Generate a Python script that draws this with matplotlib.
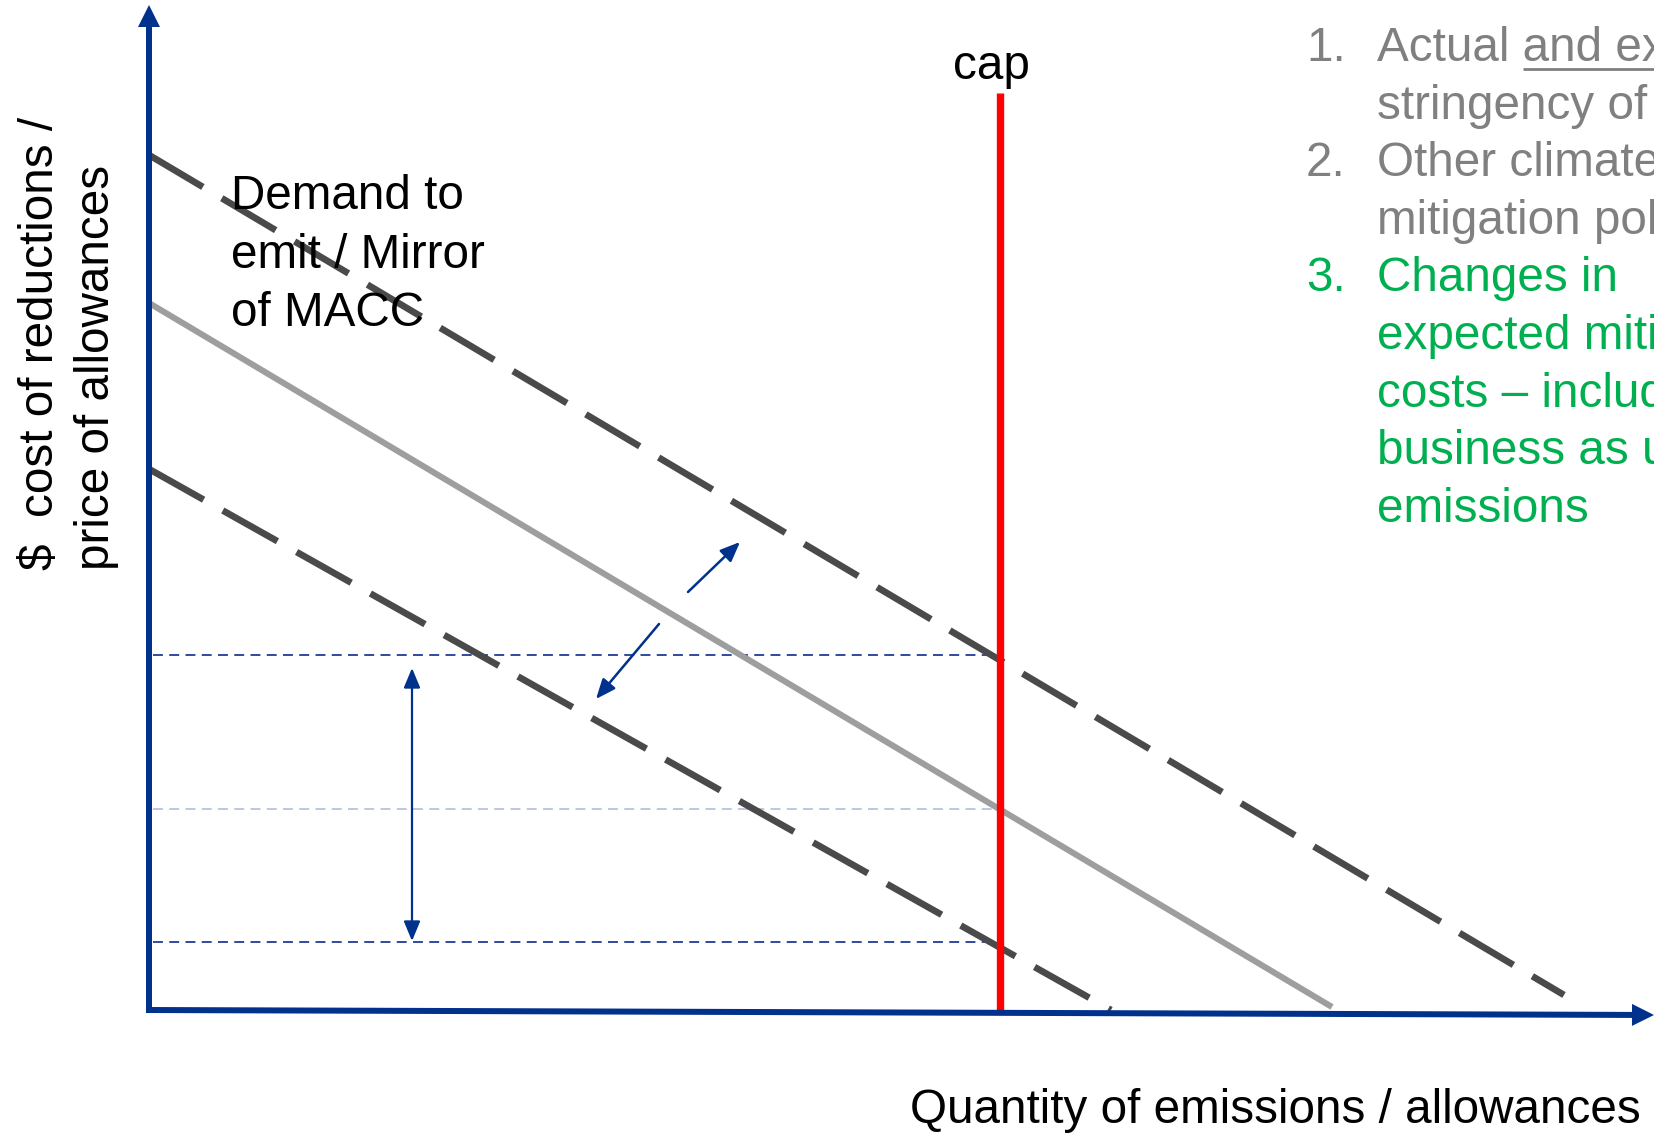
import matplotlib
matplotlib.use('Agg')
import matplotlib.pyplot as plt

plt.rcParams['font.family'] = ['Liberation Sans', 'DejaVu Sans']

# chart values (units: px-like offsets from the origin of the diagram)
demand_high_x = [0, 1415]
demand_high_y = [855, 15]
demand_mid_x = [0, 1183]
demand_mid_y = [707, 3]
demand_low_x = [0, 962]
demand_low_y = [541, 0]

cap_x = 851
cap_top = 917
price_levels = [355, 201, 68]
price_colors = ['#1F3C99', '#B7C3DE', '#1F3C99']

shift_up = [(539, 418), (591, 468)]
shift_down = [(510, 386), (447, 311)]
price_range = [(263, 342), (263, 69)]

demand_label = ["Demand to", "emit / Mirror", "of MACC"]
ylabel_lines = ["$  cost of reductions /", "price of allowances"]
xlabel = "Quantity of emissions / allowances"

list_nums = ["1.", "", "2.", "", "3.", "", "", "", ""]
list_text = ["Actual and expected", "stringency of the cap", "Other climate",
             "mitigation policies", "Changes in", "expected mitigation",
             "costs \u2013 including", "business as usual", "emissions"]
list_green = [False, False, False, False, True, True, True, True, True]

blue = '#00318C'
dark = '#4A4A4A'
grey_line = '#9E9E9E'
grey_txt = '#808080'
green = '#00B050'
fs = 34.3

fig = plt.figure(figsize=(16.54, 11.34), dpi=100)
ax = fig.add_axes([0, 0, 1, 1])
ax.set_xlim(-149, 1505)
ax.set_ylim(-124, 1010)
ax.axis('off')

# price levels (dotted)
for lvl, c in zip(price_levels, price_colors):
    ax.plot([4, cap_x], [lvl, lvl], color=c, lw=1.3,
            linestyle=(0, (5.5, 3.5)), zorder=1)

# demand curves
ax.plot(demand_mid_x, demand_mid_y, color=grey_line, lw=4.4,
        solid_capstyle='butt', zorder=2)
ax.plot(demand_high_x, demand_high_y, color=dark, lw=4.8,
        linestyle=(0, (9.4, 3.3)), zorder=2)
ax.plot(demand_low_x, demand_low_y, color=dark, lw=4.8,
        linestyle=(0, (9.4, 3.3)), zorder=2)

# cap
ax.plot([cap_x, cap_x], [0, cap_top], color='#FF0000', lw=5.3,
        solid_capstyle='butt', zorder=3)
ax.text(cap_x - 9, 931, "cap", fontsize=fs, ha='center', va='baseline')

# axes with arrow heads
ax.arrow(0, -3, 0, 1008, width=6, head_width=22, head_length=22,
         length_includes_head=True, color=blue, lw=0, zorder=4)
ax.arrow(-3, 0, 1508, -5, width=6, head_width=22, head_length=22,
         length_includes_head=True, color=blue, lw=0, zorder=4)

# shift arrows
for (x0, y0), (x1, y1) in [shift_up, shift_down]:
    ax.annotate('', xy=(x1, y1), xytext=(x0, y0),
                arrowprops=dict(arrowstyle='-|>,head_length=0.6,head_width=0.25',
                                color=blue, lw=1.8, mutation_scale=20,
                                shrinkA=0, shrinkB=0))
ax.annotate('', xy=price_range[1], xytext=price_range[0],
            arrowprops=dict(arrowstyle='<|-|>,head_length=0.6,head_width=0.25',
                            color=blue, lw=1.6, mutation_scale=20,
                            shrinkA=0, shrinkB=0))

# labels
for i, s in enumerate(demand_label):
    ax.text(82, 801 - 58.5 * i, s, fontsize=fs, ha='left', va='baseline', zorder=5)

ax.text(-96, 440, ylabel_lines[0], fontsize=fs, rotation=90,
        rotation_mode='anchor', ha='left', va='baseline')
ax.text(-40, 440, ylabel_lines[1], fontsize=fs, rotation=90,
        rotation_mode='anchor', ha='left', va='baseline')

ax.text(761, -113, xlabel, fontsize=fs, ha='left', va='baseline')

# right-hand list (runs off the right edge, as in the slide)
for i, (n, s, g) in enumerate(zip(list_nums, list_text, list_green)):
    c = green if g else grey_txt
    y = 949 - 57.6 * i
    if n:
        ax.text(1157, y, n, fontsize=fs, color=c, ha='left', va='baseline')
    ax.text(1228, y, s, fontsize=fs, color=c, ha='left', va='baseline')

# underline "and expected"
fig.canvas.draw()
r = fig.canvas.get_renderer()
tmp = ax.text(1228, 949, "Actual ", fontsize=fs, ha='left', va='baseline')
bb = tmp.get_window_extent(r)
tmp.remove()
x_start = ax.transData.inverted().transform((bb.x1, bb.y0))[0]
ax.plot([x_start, 1505], [941, 941], color=grey_txt, lw=2, solid_capstyle='butt')

fig.savefig('out.png', dpi=100)
